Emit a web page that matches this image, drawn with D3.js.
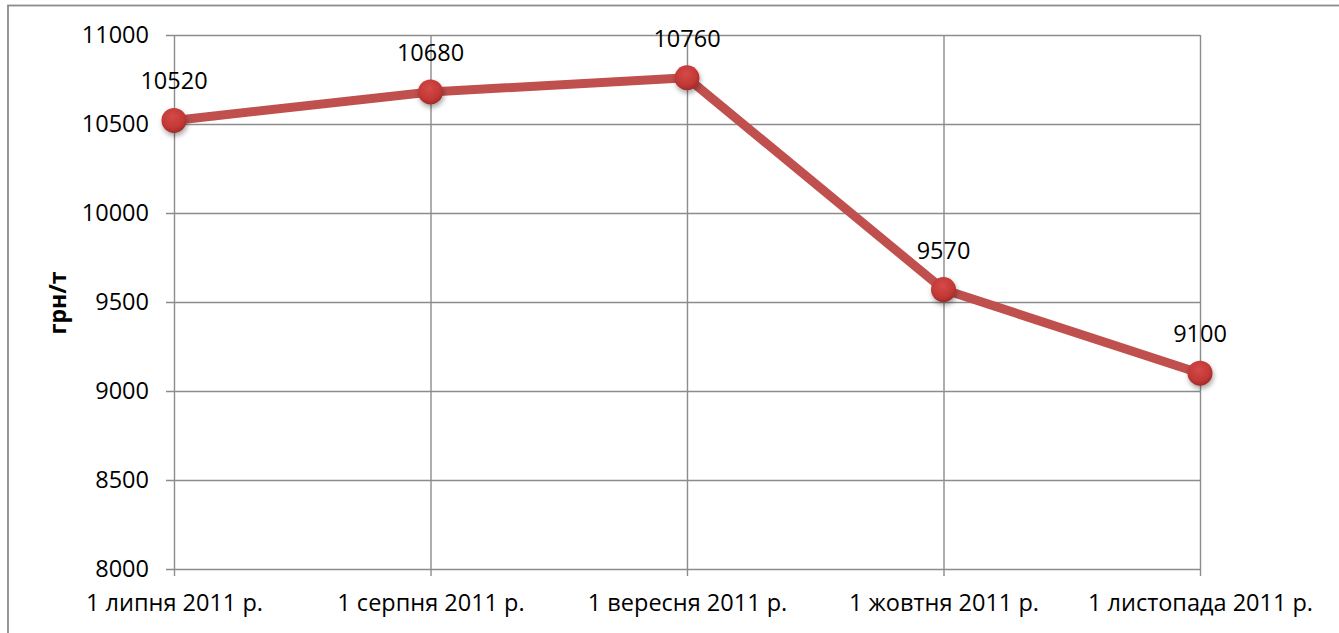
<!DOCTYPE html>
<html><head><meta charset="utf-8">
<script src="https://cdn.jsdelivr.net/npm/d3@7"></script>
<style>html,body{margin:0;padding:0;background:#fff;}svg{display:block;}</style>
</head><body>
<svg id="c" width="1339" height="633"></svg>
<script>
const categories = ["1 липня 2011 р.", "1 серпня 2011 р.", "1 вересня 2011 р.", "1 жовтня 2011 р.", "1 листопада 2011 р."];
const values = [10520, 10680, 10760, 9570, 9100];
const yTicks = [8000, 8500, 9000, 9500, 10000, 10500, 11000];
const yTitle = "грн/т";

const svg = d3.select("#c");
const font = "'Open Sans', 'Noto Sans', sans-serif";
const grid = "#8c8c8c";

// chart border
svg.append("rect").attr("x", 8).attr("y", 5.5).attr("width", 1400).attr("height", 700)
  .attr("fill", "none").attr("stroke", "#8c8c8c").attr("stroke-width", 1.8);

const x = d3.scalePoint().domain(categories).range([174, 1200]).padding(0);
const y = d3.scaleLinear().domain([8000, 11000]).range([569, 35]);

const defs = svg.append("defs");
const rg = defs.append("radialGradient").attr("id", "mk").attr("cx", "45%").attr("cy", "35%").attr("r", "65%");
rg.append("stop").attr("offset", "0%").attr("stop-color", "#d44a48");
rg.append("stop").attr("offset", "70%").attr("stop-color", "#c23835");
rg.append("stop").attr("offset", "100%").attr("stop-color", "#9e2b29");
const f = defs.append("filter").attr("id", "sh").attr("x", "-50%").attr("y", "-50%").attr("width", "200%").attr("height", "200%");
f.append("feDropShadow").attr("dx", 1).attr("dy", 3).attr("stdDeviation", 2.5).attr("flood-color", "#000").attr("flood-opacity", 0.35);

// horizontal gridlines
const yAxis = d3.axisLeft(y).tickValues(yTicks).tickSize(-(1200 - 174)).tickSizeOuter(0).tickPadding(18).tickFormat(d3.format("d"));
const gy = svg.append("g").attr("transform", "translate(174,0)").call(yAxis);
gy.select(".domain").remove();
gy.selectAll(".tick line").attr("stroke", grid).attr("stroke-width", 1.4).attr("x1", -8);
gy.selectAll(".tick text").attr("font-family", font).attr("font-size", 23.5).attr("fill", "#000").attr("x", -25);

// vertical gridlines
const xAxis = d3.axisBottom(x).tickSize(-(569 - 35)).tickSizeOuter(0).tickPadding(20);
const gx = svg.append("g").attr("transform", "translate(0,569)").call(xAxis);
gx.select(".domain").remove();
gx.selectAll(".tick line").attr("stroke", grid).attr("stroke-width", 1.4).attr("y1", 7);
gx.selectAll(".tick text").attr("font-family", font).attr("font-size", 23.5).attr("fill", "#000").attr("y", 25);

// y title
svg.append("text").attr("transform", "translate(66,303) rotate(-90)")
  .attr("text-anchor", "middle").attr("font-family", font).attr("font-weight", "bold")
  .attr("font-size", 23).attr("fill", "#000").text(yTitle);

const pts = categories.map((c, i) => ({c, v: values[i]}));
const line = d3.line().x(d => x(d.c)).y(d => y(d.v));
svg.append("path").datum(pts).attr("d", line).attr("fill", "none")
  .attr("stroke", "#c0504d").attr("stroke-width", 9).attr("stroke-linejoin", "round");

svg.selectAll("circle.m").data(pts).join("circle").attr("class", "m")
  .attr("cx", d => x(d.c)).attr("cy", d => y(d.v)).attr("r", 12.5)
  .attr("fill", "url(#mk)").attr("filter", "url(#sh)");

svg.selectAll("text.lbl").data(pts).join("text").attr("class", "lbl")
  .attr("x", d => x(d.c)).attr("y", d => y(d.v) - 31)
  .attr("text-anchor", "middle").attr("font-family", font).attr("font-size", 23.5).attr("fill", "#000")
  .text(d => d.v);
</script>
</body></html>
